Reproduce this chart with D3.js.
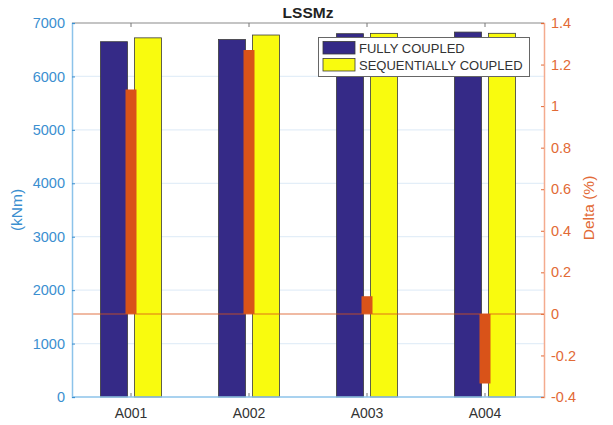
<!DOCTYPE html>
<html>
<head>
<meta charset="utf-8">
<script src="https://cdn.jsdelivr.net/npm/d3@7"></script>
<style>
  html, body { margin: 0; padding: 0; background: #fff; }
  svg { display: block; font-family: "Liberation Sans", Arial, sans-serif; }
</style>
</head>
<body>
<svg id="chart" width="613" height="425"></svg>
<script>
// Load cases
const categories = ["A001", "A002", "A003", "A004"];
// Moment LSSMz (kNm) for the two coupling approaches
const fullyCoupled = [6650, 6690, 6800, 6830];
const sequentiallyCoupled = [6722, 6775, 6806, 6807];
// Relative difference (%)
const delta = [1.08, 1.27, 0.085, -0.335];

const seriesNames = ["FULLY COUPLED", "SEQUENTIALLY COUPLED"];
const leftTicks = [0, 1000, 2000, 3000, 4000, 5000, 6000, 7000];
const rightTicks = [-0.4, -0.2, 0, 0.2, 0.4, 0.6, 0.8, 1, 1.2, 1.4];

const colFC = "#352a87", colSC = "#f9fb0e", colDelta = "#d95319";
const colLeft = "#3b8fd0", colRight = "#e26a36";

const svg = d3.select("#chart");
const L = 72, R = 544, T = 23, B = 397;

const x = d3.scaleBand().domain(categories).range([L, R]).padding(0);
const half = 30.5;
const xs = d3.scaleBand().domain(seriesNames).range([-half, half]).paddingInner(0.206);
const yL = d3.scaleLinear().domain([0, 7000]).range([B, T]);
const yR = d3.scaleLinear().domain([-0.4, 1.4]).range([B, T]);
const cx = c => x(c) + x.bandwidth() / 2;

// Horizontal grid lines from the left axis
svg.append("g").selectAll("line").data(leftTicks.filter(t => t > 0 && t < 7000)).join("line")
  .attr("x1", L).attr("x2", R).attr("y1", d => yL(d)).attr("y2", d => yL(d))
  .attr("stroke", "#e3eef8").attr("stroke-width", 1.2);

// Grouped bars
const rows = categories.map((c, i) => ({ c, vals: [fullyCoupled[i], sequentiallyCoupled[i]] }));
const g = svg.append("g");
rows.forEach(r => {
  g.selectAll(null).data(r.vals).join("rect")
    .attr("x", (v, j) => cx(r.c) + xs(seriesNames[j]))
    .attr("width", xs.bandwidth())
    .attr("y", v => yL(v))
    .attr("height", v => yL(0) - yL(v))
    .attr("fill", (v, j) => j === 0 ? colFC : colSC)
    .attr("stroke", "#3a3a3a").attr("stroke-width", 0.8);
});

// Delta bars on the right axis
svg.append("g").selectAll("rect").data(delta).join("rect")
  .attr("x", (d, i) => cx(categories[i]) - 5.5)
  .attr("width", 11)
  .attr("y", d => yR(Math.max(d, 0)))
  .attr("height", d => Math.abs(yR(d) - yR(0)))
  .attr("fill", colDelta);

// Zero baseline of the delta bars
svg.append("line").attr("x1", L).attr("x2", R).attr("y1", yR(0)).attr("y2", yR(0))
  .attr("stroke", colDelta).attr("stroke-opacity", 0.4).attr("stroke-width", 2);

// Box top edge and category ticks
svg.append("line").attr("x1", L).attr("x2", R).attr("y1", T).attr("y2", T)
  .attr("stroke", "#8a8a8a").attr("stroke-width", 1.2);
svg.append("g").selectAll("line").data(categories).join("line")
  .attr("x1", cx).attr("x2", cx).attr("y1", T).attr("y2", T + 4)
  .attr("stroke", "#777").attr("stroke-width", 1);
svg.append("g").selectAll("line").data(categories).join("line")
  .attr("x1", cx).attr("x2", cx).attr("y1", B).attr("y2", B - 4)
  .attr("stroke", "#777").attr("stroke-width", 1);

// Bottom axis line
svg.append("line").attr("x1", L).attr("x2", R).attr("y1", B).attr("y2", B)
  .attr("stroke", "#8cc3ea").attr("stroke-width", 1.5);

// Category labels
svg.append("g").selectAll("text").data(categories).join("text")
  .attr("x", cx).attr("y", 417.5).attr("text-anchor", "middle")
  .attr("font-size", 14).attr("fill", "#333").text(d => d);

// Left axis
const axL = svg.append("g").attr("transform", `translate(${L},0)`)
  .call(d3.axisLeft(yL).tickValues(leftTicks).tickSize(-3).tickPadding(7).tickFormat(d3.format("d")));
axL.select(".domain").attr("stroke", "#8cc3ea").attr("stroke-width", 1.5);
axL.selectAll(".tick line").attr("stroke", colLeft);
axL.selectAll(".tick text").attr("font-size", 14.5).attr("fill", colLeft)
  .attr("font-family", "Liberation Sans, Arial, sans-serif");

// Right axis
const fmtR = d => String(+d.toFixed(1));
const axR = svg.append("g").attr("transform", `translate(${R},0)`)
  .call(d3.axisRight(yR).tickValues(rightTicks).tickSize(-3).tickPadding(7).tickFormat(fmtR));
axR.select(".domain").attr("stroke", "#f4ab8e").attr("stroke-width", 1.5);
axR.selectAll(".tick line").attr("stroke", colRight);
axR.selectAll(".tick text").attr("font-size", 14.5).attr("fill", colRight)
  .attr("font-family", "Liberation Sans, Arial, sans-serif");

// Axis titles
svg.append("text").attr("transform", "translate(22,210) rotate(-90)")
  .attr("text-anchor", "middle").attr("font-size", 15.5).attr("fill", colLeft).text("(kNm)");
svg.append("text").attr("transform", "translate(594,208) rotate(-90)")
  .attr("text-anchor", "middle").attr("font-size", 15.5).attr("fill", colRight).text("Delta (%)");

// Title
svg.append("text").attr("x", 308).attr("y", 18).attr("text-anchor", "middle")
  .attr("font-size", 15.5).attr("font-weight", "bold").attr("fill", "#222").text("LSSMz");

// Legend
const lg = svg.append("g");
lg.append("rect").attr("x", 318.5).attr("y", 37.5).attr("width", 211).attr("height", 39)
  .attr("fill", "#fff").attr("stroke", "#666").attr("stroke-width", 1);
const items = lg.selectAll("g").data(seriesNames).join("g")
  .attr("transform", (d, i) => `translate(0,${i * 17})`);
items.append("rect").attr("x", 323).attr("y", 41.5).attr("width", 32).attr("height", 12.5)
  .attr("fill", (d, i) => i === 0 ? colFC : colSC).attr("stroke", "#3a3a3a").attr("stroke-width", 0.8);
items.append("text").attr("x", 359).attr("y", 52.5).attr("font-size", 13)
  .attr("fill", "#333").text(d => d);
</script>
</body>
</html>
